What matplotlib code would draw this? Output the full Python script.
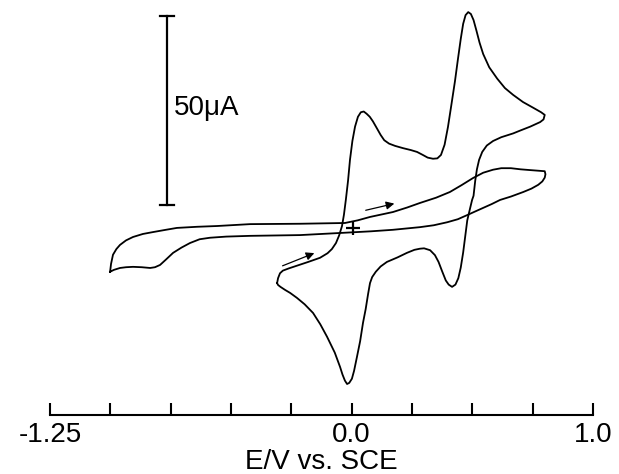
import matplotlib
matplotlib.use("Agg")
import matplotlib.pyplot as plt

plt.rcParams['font.family'] = ['Liberation Sans', 'DejaVu Sans']

# main CV (E in V vs SCE, current in uA)
cv_E = [-0.309, -0.305, -0.297, -0.285, -0.260, -0.227, -0.180, -0.131, -0.100, -0.082,
        -0.065, -0.052, -0.040, -0.032, -0.024, -0.015, -0.007, 0.003, 0.014, 0.026,
        0.038, 0.050, 0.062, 0.075, 0.088, 0.105, 0.120, 0.135, 0.155, 0.180,
        0.213, 0.245, 0.271, 0.295, 0.315, 0.337, 0.355, 0.370, 0.385, 0.399,
        0.413, 0.428, 0.440, 0.452, 0.462, 0.472, 0.483, 0.494, 0.505, 0.517,
        0.530, 0.545, 0.570, 0.603, 0.635, 0.669, 0.710, 0.752, 0.785, 0.800,
        0.795, 0.781, 0.740, 0.700, 0.669, 0.620, 0.586, 0.560, 0.541, 0.528,
        0.519, 0.512, 0.505, 0.499, 0.490, 0.479, 0.470, 0.462, 0.452, 0.442,
        0.430, 0.416, 0.402, 0.390, 0.375, 0.360, 0.345, 0.325, 0.300, 0.283,
        0.260, 0.229, 0.190, 0.146, 0.120, 0.100, 0.085, 0.076, 0.068, 0.058,
        0.047, 0.035, 0.022, 0.010, 0.001, -0.010, -0.019, -0.028, -0.038, -0.048,
        -0.070, -0.102, -0.130, -0.160, -0.195, -0.227, -0.255, -0.276, -0.295, -0.305,
        -0.309]
cv_I = [-14.6, -13.3, -12.0, -11.3, -10.7, -10.0, -9.0, -7.9, -6.7, -5.6,
        -4.0, -2.0, 0.5, 3.5, 7.5, 12.5, 18.0, 23.0, 26.8, 29.4,
        30.6, 30.8, 30.2, 29.4, 28.2, 26.3, 24.6, 23.2, 22.3, 21.7,
        21.1, 20.6, 20.1, 19.3, 18.6, 18.3, 18.4, 19.3, 22.0, 26.7,
        32.5, 38.8, 44.5, 50.0, 54.0, 56.3, 57.1, 56.6, 55.0, 52.2,
        49.0, 46.0, 42.5, 39.5, 37.0, 35.2, 33.3, 31.8, 30.6, 29.9,
        28.7, 28.0, 26.8, 25.8, 25.0, 24.0, 23.0, 21.8, 20.1, 18.0,
        15.5, 12.5, 8.5, 7.4, 5.0, 2.0, -2.5, -6.5, -10.5, -13.3,
        -15.0, -15.6, -15.0, -13.9, -11.5, -9.0, -7.2, -5.9, -5.4, -5.5,
        -5.8, -6.6, -7.8, -9.0, -10.2, -11.6, -13.0, -14.6, -17.5, -21.5,
        -25.1, -30.0, -34.1, -37.8, -39.9, -41.0, -41.3, -40.4, -38.8, -36.8,
        -33.0, -28.8, -25.5, -22.5, -20.2, -18.5, -17.2, -16.4, -15.6, -15.1,
        -14.6]

# wide scan loop
bg_E = [-1.001, -0.997, -0.989, -0.975, -0.960, -0.935, -0.906, -0.865, -0.823, -0.770,
        -0.724, -0.640, -0.558, -0.421, -0.214, -0.028, 0.025, 0.076, 0.171, 0.230,
        0.283, 0.350, 0.407, 0.455, 0.503, 0.545, 0.586, 0.620, 0.660, 0.700,
        0.739, 0.780, 0.800, 0.803, 0.800, 0.790, 0.773, 0.745, 0.711, 0.660,
        0.615, 0.580, 0.545, 0.510, 0.479, 0.440, 0.396, 0.340, 0.283, 0.171,
        0.080, -0.036, -0.214, -0.421, -0.520, -0.587, -0.630, -0.670, -0.705, -0.740,
        -0.770, -0.794, -0.815, -0.835, -0.870, -0.906, -0.935, -0.960, -0.985, -1.001]
bg_I = [-11.6, -9.5, -7.1, -5.6, -4.5, -3.3, -2.4, -1.6, -1.1, -0.5,
        0.0, 0.3, 0.5, 1.0, 1.1, 1.3, 2.0, 2.9, 4.2, 5.4,
        6.6, 8.0, 9.5, 11.3, 13.2, 14.6, 15.4, 15.8, 15.8, 15.5,
        15.3, 15.1, 15.0, 14.2, 13.3, 12.3, 11.4, 10.4, 9.5, 8.3,
        7.4, 6.3, 5.3, 4.3, 3.4, 2.3, 1.5, 0.7, 0.2, -0.5,
        -0.9, -1.3, -1.9, -2.1, -2.3, -2.6, -3.0, -4.0, -5.2, -6.6,
        -8.4, -9.8, -10.4, -10.6, -10.4, -10.3, -10.4, -10.6, -11.1, -11.6]

ticks = [-1.25, -1.0, -0.75, -0.5, -0.25, 0.0, 0.25, 0.5, 0.75, 1.0]
tick_labels = ['-1.25', '', '', '', '', '0.0', '', '', '', '1.0']

fig = plt.figure(figsize=(6.19, 4.74), dpi=100)
ax = fig.add_axes([50 / 619, 59 / 474, 543 / 619, 415 / 474])

ax.plot(cv_E, cv_I, color='black', lw=1.3, solid_joinstyle='round')
ax.plot(bg_E, bg_I, color='black', lw=1.3, solid_joinstyle='round')

# origin cross
ax.plot([0.005], [0.0], marker='+', color='black', ms=10, mew=1.6)

# scan direction arrows
ax.annotate('', xy=(-0.144, -6.4), xytext=(-0.297, -10.3),
            arrowprops=dict(arrowstyle='-|>', color='black', lw=0.9,
                            mutation_scale=12))
ax.annotate('', xy=(0.188, 6.6), xytext=(0.047, 4.5),
            arrowprops=dict(arrowstyle='-|>', color='black', lw=0.9,
                            mutation_scale=12))

# 50 uA scale bar
ax.plot([-0.765, -0.765], [6.1, 56.1], color='black', lw=1.6)
ax.plot([-0.794, -0.736], [56.1, 56.1], color='black', lw=1.6)
ax.plot([-0.794, -0.736], [6.1, 6.1], color='black', lw=1.6)
ax.text(-0.738, 31.7, '50\u03bcA', fontsize=20, ha='left', va='center')

ax.set_xlim(-1.25, 1.0)
ax.set_ylim(-49.5, 60.3)
for s in ['top', 'left', 'right']:
    ax.spines[s].set_visible(False)
ax.spines['bottom'].set_linewidth(1.5)
ax.set_yticks([])
ax.set_xticks(ticks)
ax.set_xticklabels(tick_labels, fontsize=20)
ax.tick_params(axis='x', direction='in', length=9, width=1.5, pad=5)
ax.set_xlabel('E/V vs. SCE', fontsize=20, labelpad=1)

fig.savefig('out.png', dpi=100)
